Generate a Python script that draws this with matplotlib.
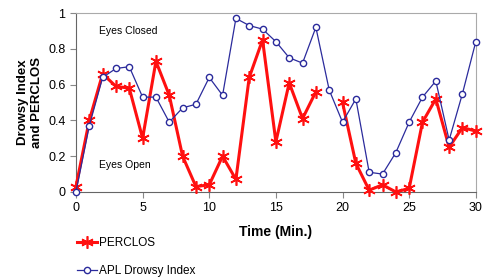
import numpy as np
import matplotlib
matplotlib.use("Agg")
import matplotlib.pyplot as plt

plt.rcParams['font.family'] = ['Liberation Sans', 'DejaVu Sans']

# Datos
minutes = list(range(31))
perclos = [0.03, 0.40, 0.66, 0.59, 0.58, 0.30, 0.73, 0.54, 0.20, 0.03,
           0.04, 0.20, 0.07, 0.64, 0.85, 0.28, 0.61, 0.41, 0.56, np.nan,
           0.50, 0.16, 0.01, 0.04, 0.00, 0.02, 0.39, 0.52, 0.25, 0.36, 0.34]
apl_index = [0.00, 0.37, 0.64, 0.69, 0.70, 0.53, 0.53, 0.39, 0.47, 0.49,
             0.64, 0.54, 0.97, 0.93, 0.91, 0.84, 0.75, 0.72, 0.92, 0.57,
             0.39, 0.52, 0.11, 0.10, 0.22, 0.39, 0.53, 0.62, 0.29, 0.55, 0.84]
x_ticks = [0, 5, 10, 15, 20, 25, 30]
y_ticks = [0, 0.2, 0.4, 0.6, 0.8, 1]
y_labels = ['0', '0.2', '0.4', '0.6', '0.8', '1']

fig = plt.figure(figsize=(4.87, 2.77), dpi=100)
ax = fig.add_axes([0.156, 0.307, 0.821, 0.646])

red_line, = ax.plot(minutes, perclos, color='#ff1010', lw=2.2,
                    marker=(6, 2, 0), markersize=9, markeredgewidth=1.2,
                    label='PERCLOS', zorder=3, clip_on=False)
blue_line, = ax.plot(minutes, apl_index, color='#2b2b9c', lw=0.9,
                     marker='o', markersize=4.5, markerfacecolor='white',
                     markeredgewidth=1.0, label='APL Drowsy Index', zorder=4,
                     clip_on=False)

ax.set_xlim(0, 30)
ax.set_ylim(0, 1)
ax.set_xticks(x_ticks)
ax.set_yticks(y_ticks)
ax.set_yticklabels(y_labels)
ax.tick_params(labelsize=9, length=4, color='#888888')
ax.set_xlabel('Time (Min.)', fontsize=10, fontweight='bold', labelpad=8)
ax.set_ylabel('Drowsy Index\nand PERCLOS', fontsize=9.5, fontweight='bold',
              labelpad=4)

for s in ['top', 'right']:
    ax.spines[s].set_color('#aaaaaa')
for s in ['left', 'bottom']:
    ax.spines[s].set_color('#666666')

ax.text(1.7, 0.9, 'Eyes Closed', fontsize=7.5, va='center')
ax.text(1.7, 0.15, 'Eyes Open', fontsize=7.5, va='center')

fig.legend(handles=[red_line, blue_line], loc='upper left',
           bbox_to_anchor=(0.148, 0.16), frameon=False, fontsize=8.5,
           handlelength=1.7, handletextpad=0.2, labelspacing=1.3,
           borderaxespad=0)

fig.savefig('out.png', dpi=100)
